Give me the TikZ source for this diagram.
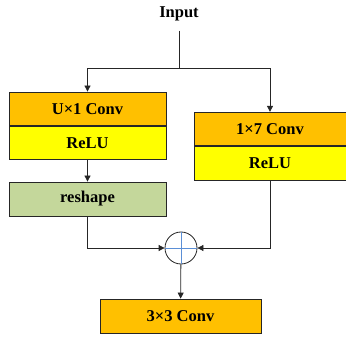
\documentclass[tikz,border=0pt]{standalone}
\usepackage{fontspec}
\setmainfont{Liberation Serif}
\usetikzlibrary{arrows.meta,positioning}
\definecolor{Amber}{HTML}{FFC000}
\definecolor{Lemon}{HTML}{FFFF00}
\definecolor{Sage}{HTML}{C4D79B}
\definecolor{Cross}{HTML}{5B8FD6}
\definecolor{Ink}{HTML}{262626}

\begin{document}
\begin{tikzpicture}[x=1pt,y=-1pt,
  font=\fontsize{16.5}{19}\selectfont\bfseries,
  conv/.style={draw=Ink,line width=0.8pt,fill=Amber,
    minimum width=157pt,minimum height=33.5pt,inner sep=0pt},
  act/.style={draw=Ink,line width=0.8pt,fill=Lemon,
    minimum width=157pt,minimum height=33.5pt,inner sep=0pt},
  reshp/.style={draw=Ink,line width=0.8pt,fill=Sage,
    minimum width=157pt,minimum height=34pt,inner sep=0pt},
  arr/.style={-{Triangle[length=6pt,width=6pt]},line width=0.8pt,color=Ink},
  plain/.style={line width=0.8pt,color=Ink}
]
\useasboundingbox (0,0) rectangle (346,337);

% Input and the split into two branches.
\node (input) at (179,14) {Input};
\coordinate (split) at (179,68);
\draw[plain,shorten <=6pt] (input.south)--(split);

% Left branch.
\node[conv] (conva) at (87.5,108.75) {U\texttimes1 Conv};
\node[act,below=0pt of conva] (relua) {ReLU};
\node[reshp] (reshape) at (87.5,199) {reshape};

% Right branch.
\node[conv,minimum width=152pt] (convb) at (270,129) {1\texttimes7 Conv};
\node[act,minimum width=152pt,below=0pt of convb] (relub) {ReLU};

% Merge and output.
\node[circle,draw=Ink,line width=0.8pt,fill=white,minimum size=32pt,
  inner sep=0pt] (sum) at (181,248) {};
\draw[Cross,line width=0.8pt] (sum.north)--(sum.south) (sum.west)--(sum.east);
\node[conv,minimum width=161pt,minimum height=34pt] (conv33)
  at (180.5,316) {3\texttimes3 Conv};

\draw[arr] (split)-|(conva);
\draw[arr] (split)-|(convb);
\draw[arr] (relua)--(reshape);
\draw[arr] (reshape.south)|-(sum.west);
\draw[arr] (relub.south)|-(sum.east);
\draw[arr] (sum)--(conv33);
\end{tikzpicture}
\end{document}
